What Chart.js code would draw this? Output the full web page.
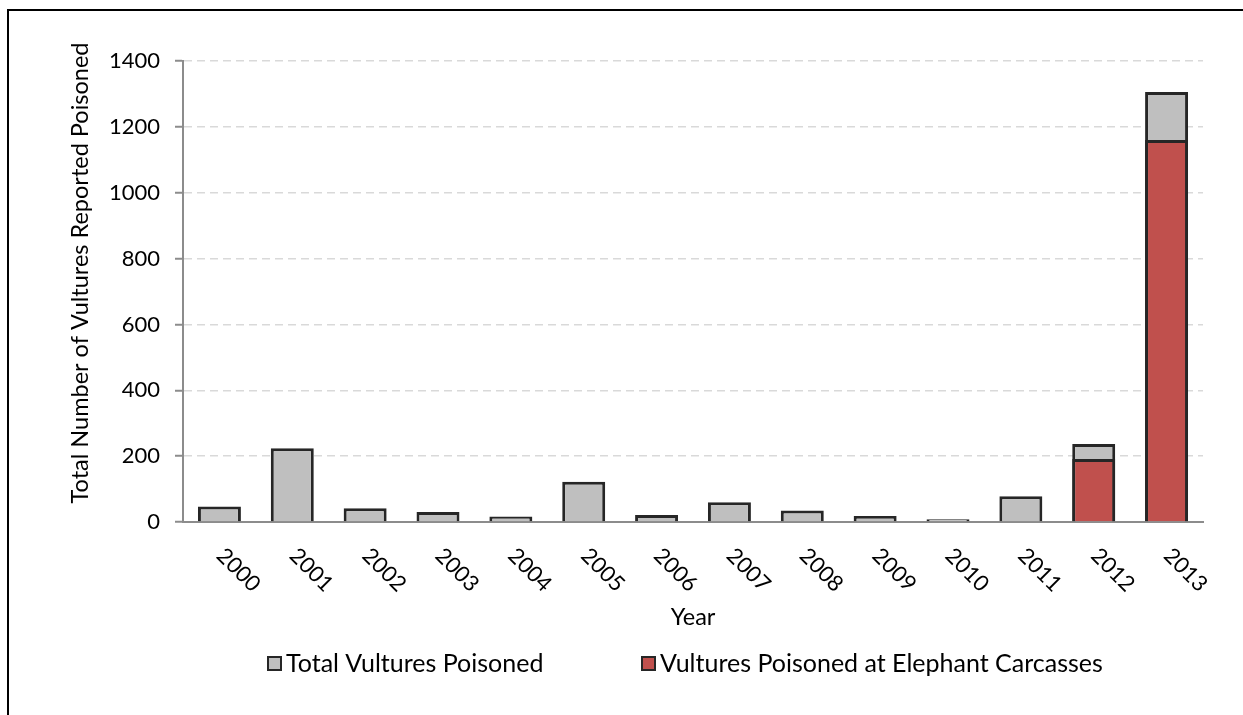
<!DOCTYPE html>
<html>
<head>
<meta charset="utf-8">
<script src="https://cdn.jsdelivr.net/npm/chart.js@4.4.1/dist/chart.umd.min.js"></script>
<style>
  html, body { margin: 0; padding: 0; background: #fff; overflow: hidden; }
  #wrap { position: relative; width: 1243px; height: 715px; }
  #frame { position: absolute; left: 7px; top: 9px; width: 1300px; height: 800px;
           border-left: 2px solid #000; border-top: 2px solid #000; pointer-events: none; }
</style>
</head>
<body>
<div id="wrap">
  <canvas id="vultureChart" width="1243" height="715"></canvas>
  <div id="frame"></div>
</div>
<script>
// data
const years = ['2000', '2001', '2002', '2003', '2004', '2005', '2006',
               '2007', '2008', '2009', '2010', '2011', '2012', '2013'];
const totalPoisoned = [47, 224, 42, 30, 17, 122, 21, 60, 35, 18, 8, 78, 237, 1306];
const elephantPoisoned = [null, null, null, null, null, null, null,
                          null, null, null, null, null, 191, 1160];
const yTicks = [0, 200, 400, 600, 800, 1000, 1200, 1400];

const FONT = 'Lato';

// labels, axis titles and legend drawn by hand (Excel style)
const excelText = {
    id: 'excelText',
    afterDraw(chart) {
        const ctx = chart.ctx;
        const xs = chart.scales.x;
        const area = chart.chartArea;
        ctx.save();
        ctx.fillStyle = '#000';
        ctx.font = '22px ' + FONT;
        ctx.textAlign = 'center';
        ctx.textBaseline = 'middle';

        // rotated year labels
        years.forEach((lbl, i) => {
            const x = xs.getPixelForTick(i);
            ctx.save();
            ctx.translate(x + 19, 570);
            ctx.rotate(Math.PI / 4);
            ctx.fillText(lbl, 0, 0);
            ctx.restore();
        });

        // x title
        ctx.font = '23.5px ' + FONT;
        ctx.fillText('Year', (area.left + area.right) / 2, 617);

        // y title
        ctx.save();
        ctx.translate(80, 273);
        ctx.rotate(-Math.PI / 2);
        ctx.fillText('Total Number of Vultures Reported Poisoned', 0, 0);
        ctx.restore();

        // legend
        ctx.font = '25px ' + FONT;
        ctx.textAlign = 'left';
        const items = [
            { ds: chart.data.datasets[0], x: 267 },
            { ds: chart.data.datasets[1], x: 641 }
        ];
        items.forEach(it => {
            ctx.fillStyle = it.ds.backgroundColor;
            ctx.fillRect(it.x, 656, 15, 15);
            ctx.strokeStyle = '#262626';
            ctx.lineWidth = 2;
            ctx.strokeRect(it.x + 1, 657, 13, 13);
            ctx.fillStyle = '#000';
            ctx.fillText(it.ds.label, it.x + 19, 664);
        });
        ctx.restore();
    }
};

const ctx = document.getElementById('vultureChart').getContext('2d');

const chartData = {
    labels: years,
    datasets: [{
        label: 'Total Vultures Poisoned',
        data: totalPoisoned,
        backgroundColor: '#bfbfbf',
        borderColor: '#262626',
        borderWidth: 3,
        order: 1
    }, {
        label: 'Vultures Poisoned at Elephant Carcasses',
        data: elephantPoisoned,
        backgroundColor: '#c0504d',
        borderColor: '#262626',
        borderWidth: 3,
        order: 0
    }]
};

const config = {
    type: 'bar',
    data: chartData,
    options: {
        responsive: false,
        animation: false,
        layout: { padding: { left: 60, right: 40, top: 61, bottom: 0 } },
        datasets: {
            bar: { categoryPercentage: 1, barPercentage: 0.59 }
        },
        plugins: {
            legend: { display: false },
            tooltip: { enabled: false }
        },
        scales: {
            x: {
                stacked: true,
                ticks: { display: false },
                grid: { display: false },
                border: { color: '#8c8c8c', width: 2 },
                afterFit: (scale) => { scale.height = 193; }
            },
            y: {
                stacked: false,
                min: 0,
                max: 1400,
                afterBuildTicks: (scale) => {
                    scale.ticks = yTicks.map(v => ({ value: v }));
                },
                ticks: {
                    font: { family: FONT, size: 22 },
                    color: '#000',
                    padding: 15,
                    callback: (v) => String(v)
                },
                grid: {
                    color: (c) => c.tick && c.tick.value === 0 ? 'rgba(0,0,0,0)' : '#d9d9d9',
                    lineWidth: 1.5,
                    tickColor: '#8c8c8c',
                    tickLength: 8,
                    tickWidth: 2
                },
                border: { color: '#8c8c8c', width: 2, dash: [8, 5] },
                afterFit: (scale) => { scale.width = 123; }
            }
        }
    },
    plugins: [excelText]
};

const vultureChart = new Chart(ctx, config);
</script>
</body>
</html>
